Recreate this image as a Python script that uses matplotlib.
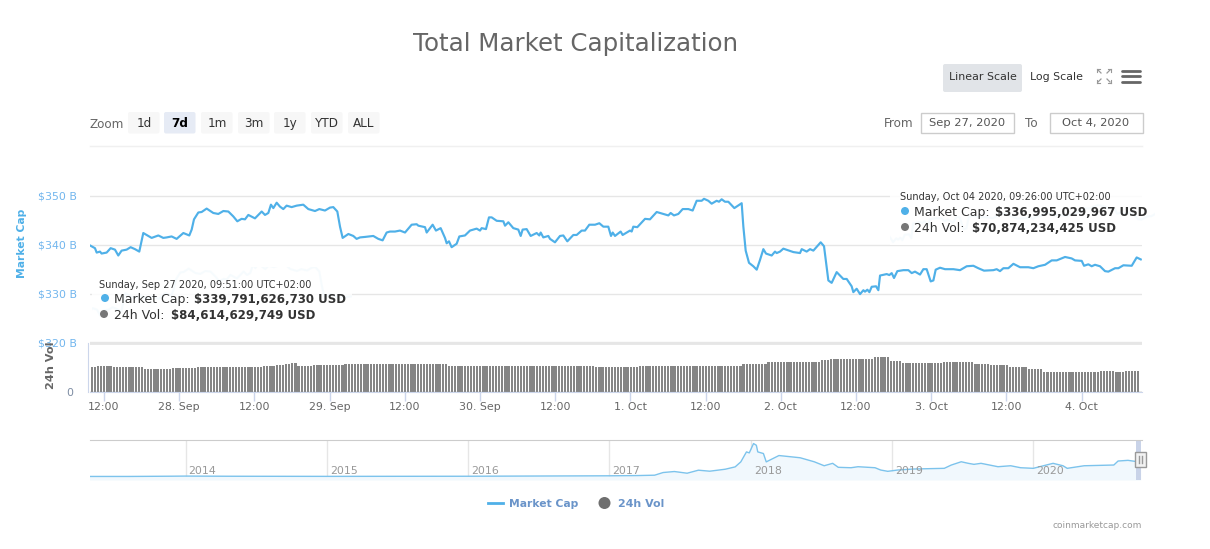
import numpy as np
import matplotlib
matplotlib.use("Agg")
import matplotlib.pyplot as plt
from matplotlib.patches import Rectangle, Circle, FancyBboxPatch
from matplotlib.transforms import Affine2D

# ---- data ----
# hours counted from 27 Sep 2020 00:00
mcap_hours = [9.85, 10.56, 10.83, 11.36, 11.62, 12.42, 13.06, 13.75, 14.28, 14.81, 15.61, 16.25, 16.94, 17.63,
    18.27, 18.80, 19.60, 20.67, 21.46, 22.00, 22.79, 23.59, 24.66, 25.61, 25.99, 26.36, 27.05, 27.58, 28.38,
    29.44, 30.24, 31.04, 31.84, 32.63, 33.27, 33.96, 34.50, 35.03, 36.09, 37.16, 37.69, 38.22, 38.64, 39.02,
    39.55, 40.08, 40.61, 41.14, 41.94, 42.74, 43.80, 44.60, 45.67, 46.36, 47.26, 48.06, 48.59, 49.23, 49.66,
    50.08, 50.99, 51.78, 52.31, 52.85, 53.64, 54.97, 55.77, 56.46, 57.10, 57.63, 58.43, 59.23, 60.03, 61.09,
    61.89, 62.16, 63.22, 63.49, 64.44, 64.97, 65.72, 66.41, 66.68, 67.05, 67.47, 68.27, 68.70, 69.60, 70.40,
    71.46, 72.00, 72.26, 72.95, 73.43, 73.86, 74.66, 75.72, 75.99, 76.52, 77.31, 78.11, 78.49, 78.80, 79.44,
    80.08, 81.04, 81.46, 81.68, 82.10, 82.90, 83.17, 83.96, 84.76, 85.29, 85.93, 86.89, 87.42, 88.22, 88.75,
    89.44, 90.35, 91.04, 91.68, 92.47, 92.90, 93.17, 93.54, 94.44, 94.76, 95.93, 96.20, 96.46, 97.10, 98.33,
    99.12, 100.19, 101.25, 102.05, 102.42, 102.95, 103.64, 104.34, 105.24, 105.93, 106.57, 107.37, 107.74,
    108.43, 108.96, 109.76, 110.13, 110.56, 111.09, 111.62, 112.58, 113.75, 114.02, 114.39, 114.92, 115.61,
    116.15, 116.68, 117.21, 117.63, 118.54, 119.07, 119.34, 119.87, 120.40, 122.00, 123.06, 123.33, 124.12,
    124.66, 125.19, 126.36, 126.89, 127.58, 128.11, 128.91, 129.97, 130.51, 131.30, 131.57, 132.10, 132.64,
    133.17, 133.43, 133.81, 134.13, 134.50, 135.19, 135.56, 135.83, 136.89, 137.31, 137.69, 138.06, 138.59,
    139.55, 140.35, 140.88, 141.41, 142.21, 142.74, 143.27, 143.91, 144.34, 144.71, 145.40, 146.20, 147.53,
    148.59, 149.66, 150.72, 151.51, 152.42, 153.91, 154.44, 154.97, 155.51, 156.30, 157.11, 158.17, 159.49,
    160.29, 161.09, 162.16, 163.22, 164.02, 165.35, 166.41, 166.94, 168.01, 168.38, 169.07, 169.60, 170.13,
    170.93, 171.73, 172.26, 173.33, 173.86, 174.66, 175.99, 176.78, 177.43]
mcap_billion = [339.8, 339.3, 338.4, 338.6, 338.2, 338.4, 339.3, 339.0, 337.8, 338.8, 339.0, 339.5, 339.1, 338.6,
    342.4, 342.0, 341.4, 341.9, 341.4, 341.5, 341.7, 341.2, 342.4, 341.9, 343.1, 345.2, 346.6, 346.7, 347.4,
    346.5, 346.3, 346.9, 346.8, 345.8, 344.8, 345.3, 345.2, 346.1, 345.4, 346.8, 346.1, 346.5, 348.2, 347.5,
    348.6, 347.8, 347.3, 348.0, 347.7, 348.0, 348.2, 347.3, 346.9, 347.3, 347.0, 347.6, 347.7, 346.8, 343.7,
    341.4, 342.2, 341.8, 341.2, 341.5, 341.6, 341.8, 341.2, 340.9, 342.5, 342.7, 342.7, 342.9, 342.5, 344.1,
    344.2, 343.9, 343.6, 342.5, 344.1, 342.9, 343.4, 341.4, 340.3, 340.7, 339.5, 340.2, 341.7, 341.9, 342.9,
    343.3, 342.9, 343.4, 343.2, 345.6, 345.6, 344.9, 344.8, 343.9, 344.6, 343.4, 343.1, 341.8, 343.1, 343.2,
    341.8, 342.4, 341.9, 342.5, 341.5, 341.8, 341.2, 340.5, 341.8, 341.9, 340.7, 342.0, 342.0, 342.9, 342.9,
    344.1, 344.1, 344.4, 343.7, 343.7, 341.8, 342.5, 341.8, 342.7, 342.0, 342.9, 342.7, 343.7, 343.6, 345.3,
    345.2, 346.7, 346.3, 346.0, 346.5, 346.0, 346.3, 347.3, 347.3, 347.0, 349.0, 349.0, 349.4,
    349.0, 348.4, 349.0, 348.8, 349.3, 348.8, 348.8, 347.5, 348.5, 343.7, 338.8, 336.3, 335.6,
    334.9, 336.9, 339.1, 338.2, 337.8, 338.6, 338.3, 338.6, 339.2, 338.5, 338.3, 339.1, 338.6,
    339.1, 338.8, 340.5, 339.7, 332.7, 332.2, 334.4, 333.0, 333.0, 331.5, 330.3, 331.0, 329.9,
    330.7, 330.4, 330.8, 330.3, 331.4, 331.5, 330.7, 333.7, 334.0, 333.8, 334.2, 333.2, 334.6,
    334.8, 334.8, 334.2, 334.5, 333.9, 335.0, 335.0, 332.5, 332.7, 334.9, 335.3, 335.0, 335.0,
    334.8, 335.6, 335.7, 335.2, 334.7, 334.8, 335.0, 334.6, 335.2, 335.2, 336.1, 335.4, 335.4,
    335.2, 335.6, 335.9, 336.8, 336.8, 337.5, 337.2, 336.8, 336.7, 335.7, 336.0, 335.6, 335.9,
    335.6, 334.6, 334.5, 335.2, 335.2, 335.8, 335.7, 337.4, 337.0]

# 24h volume stays flat for stretches, so it is kept as level + number of half-hour bars
vol_levels = [85, 88.4, 85, 79, 82.6, 85, 88.4, 93, 96, 98.6, 88.4, 91.8, 95.2, 88.4, 90, 85, 88.4, 97, 102,
    108.8, 112, 114.6, 119, 105, 98.6, 102, 95, 91.8, 85, 80.6, 69, 72.4, 69, 71]
vol_runs = [2, 5, 10, 9, 8, 21, 4, 3, 2, 2, 5, 10, 33, 15, 32, 14, 33, 8, 17,
    3, 10, 4, 5, 4, 13, 10, 5, 6, 6, 5, 18, 5, 3, 5]

# navigator (whole history)
nav_years = [2013.32, 2013.6, 2013.9, 2014.0, 2014.3, 2015.0, 2016.0, 2017.0, 2017.2, 2017.32, 2017.38, 2017.46,
    2017.55, 2017.63, 2017.71, 2017.82, 2017.89, 2017.93, 2017.97, 2017.99, 2018.02, 2018.04, 2018.05, 2018.09,
    2018.11, 2018.2, 2018.35, 2018.45, 2018.52, 2018.58, 2018.62, 2018.71, 2018.76, 2018.88, 2018.92, 2018.97,
    2019.04, 2019.15, 2019.37, 2019.42, 2019.49, 2019.54, 2019.58, 2019.63, 2019.75, 2019.84, 2019.91, 2020.0,
    2020.14, 2020.21, 2020.24, 2020.36, 2020.57, 2020.60, 2020.67, 2020.74, 2020.76]
nav_billion = [2, 2, 8, 11, 7, 4, 7, 18, 24, 33, 99, 124, 82, 157, 132, 181, 239, 363, 610, 586, 817, 775, 610,
    570, 363, 520, 465, 365, 267, 327, 228, 218, 243, 218, 161, 129, 161, 186, 203, 285, 366, 327, 302, 327,
    243, 267, 218, 203, 327, 267, 203, 267, 285, 384, 401, 366, 351]

hour_ticks = [12, 24, 36, 48, 60, 72, 84, 96, 108, 120, 132, 144, 156, 168]
hour_labels = ["12:00", "28. Sep", "12:00", "29. Sep", "12:00", "30. Sep", "12:00", "1. Oct",
               "12:00", "2. Oct", "12:00", "3. Oct", "12:00", "4. Oct"]
price_ticks = [320, 330, 340, 350]
price_labels = ["$320 B", "$330 B", "$340 B", "$350 B"]
nav_ticks = [2014, 2015, 2016, 2017, 2018, 2019, 2020]
zoom_buttons = ["1d", "7d", "1m", "3m", "1y", "YTD", "ALL"]

# ---- style ----
W, H = 1210, 549
LINE = "#4fb0e8"
TICK_BLUE = "#72b6ee"
GREY = "#666666"
AXIS = "#ccd6eb"
FONT = "DejaVu Sans"
plt.rcParams["font.family"] = FONT


def px(size):
    return size * 0.72


def rect(left, top, right, bottom):
    return [left / W, 1 - bottom / H, (right - left) / W, (bottom - top) / H]


fig = plt.figure(figsize=(W / 100, H / 100), dpi=100, facecolor="white")
xlim = (12 - 14 / 6.267, 12 + 1038 / 6.267)

# ---- market cap panel ----
ax = fig.add_axes(rect(90, 146, 1142, 342.5))
ax.plot(mcap_hours, mcap_billion, color=LINE, lw=1.55, solid_joinstyle="round", zorder=3)
ax.set_xlim(xlim)
ax.set_ylim(320, 350 + 50 / 4.9)
ax.set_yticks(price_ticks, price_labels, color=TICK_BLUE, fontsize=px(11))
ax.tick_params(axis="y", length=0, pad=px(13))
ax.set_xticks([])
ax.grid(axis="y", color="#e6e6e6", lw=1)
ax.set_axisbelow(True)
for s in ["left", "right", "bottom"]:
    ax.spines[s].set_visible(False)
ax.spines["top"].set_color("#f0f0f0")
ax.set_ylabel("Market Cap", color=LINE, fontsize=px(10.7), fontweight="bold")
ax.yaxis.set_label_coords((27 - 90) / 1052, 0.506)

# ---- volume panel ----
vol = np.repeat(vol_levels, vol_runs)
vol_hours = 9.85 + 0.5 * np.arange(len(vol)) + 0.2
ax_vol = fig.add_axes(rect(90, 342.5, 1142, 392))
ax_vol.bar(vol_hours, vol, width=0.36, color="#858585", linewidth=0)
ax_vol.set_xlim(xlim)
ax_vol.set_ylim(0, 170)
ax_vol.set_yticks([0, 170], ["0", ""])
ax_vol.tick_params(axis="y", length=0, pad=px(15), labelsize=px(11), labelcolor="#7d8ca3")
ax_vol.set_xticks(hour_ticks, hour_labels, color=GREY, fontsize=px(11))
ax_vol.tick_params(axis="x", length=px(9), width=1, color=AXIS, pad=px(1.5))
ax_vol.grid(axis="y", color="#e6e6e6", lw=2)
ax_vol.set_axisbelow(True)
for s in ["top", "right"]:
    ax_vol.spines[s].set_visible(False)
ax_vol.spines["bottom"].set_color(AXIS)
ax_vol.spines["left"].set_color(AXIS)
ax_vol.spines["left"].set_position(("outward", px(2)))
ax_vol.set_ylabel("24h Vol", color=GREY, fontsize=px(11.3), fontweight="bold")
ax_vol.yaxis.set_label_coords((56 - 90) / 1052, 0.55)
ax_vol.patch.set_alpha(0)

# ---- navigator ----
ax_nav = fig.add_axes(rect(90, 440, 1142, 480))
ax_nav.fill_between(nav_years, nav_billion, -86, color="#f1f8fd", lw=0)
ax_nav.plot(nav_years, nav_billion, color="#7cc3ec", lw=1)
ax_nav.set_xlim(2014 - 95.5 / 141.3, 2014 + 956.5 / 141.3)
ax_nav.set_ylim(-86, 905)
ax_nav.set_yticks([])
ax_nav.set_xticks([])
ax_nav.vlines(nav_ticks, -86, 905, color="#e6e6e6", lw=1, zorder=0)
for yr in nav_ticks:
    ax_nav.annotate(str(yr), (yr, 0), xytext=(px(3), px(1)), textcoords="offset points",
                    color="#999999", fontsize=px(11), va="bottom")
for s in ["left", "right", "bottom"]:
    ax_nav.spines[s].set_visible(False)
ax_nav.spines["top"].set_color("#cccccc")
ax_nav.axvspan(2020.73, 2020.76, color="#c9d3e8", lw=0)

# ---- everything around the plots, in page pixels ----
ov = fig.add_axes([0, 0, 1, 1], zorder=5)
ov.set_xlim(0, W)
ov.set_ylim(H, 0)
ov.axis("off")


def label(x, y, s, size=12, color="#333333", ha="left", weight="normal"):
    ov.text(x, y, s, fontsize=px(size), color=color, ha=ha, va="center_baseline", fontweight=weight)


def box(left, top, right, bottom, fc, ec="none", rounded=False, alpha=None):
    if rounded:
        p = FancyBboxPatch((left + 2, top + 2), right - left - 4, bottom - top - 4,
                           boxstyle="round,pad=2", fc=fc, ec=ec, lw=1, alpha=alpha)
    else:
        p = Rectangle((left, top), right - left, bottom - top, fc=fc, ec=ec, lw=1, alpha=alpha)
    ov.add_patch(p)


label(575.5, 41, "Total Market Capitalization", size=24.5, color=GREY, ha="center")

# range selector
label(90, 123, "Zoom", color=GREY, size=12)
btn_edges = [128, 164, 201, 238, 274, 311, 348]
for name, left in zip(zoom_buttons, btn_edges):
    selected = name == "7d"
    box(left, 112, left + 31.5, 133.5, "#e6ebf5" if selected else "#f7f7f7", rounded=True)
    label(left + 16, 122, name, ha="center", size=12, weight="bold" if selected else "normal",
          color="#000000" if selected else "#333333")
ov.plot([90, 1142], [146, 146], color="#f0f0f0", lw=1)

# scale switch and icons
box(943, 64, 1022, 92, "#e1e4e8", rounded=True)
label(982.5, 76, "Linear Scale", ha="center", size=11)
label(1056.5, 76, "Log Scale", ha="center", size=11)
for bar_y in [70.5, 76, 81.5]:
    ov.plot([1122, 1140], [bar_y, bar_y], color=GREY, lw=2, solid_capstyle="round")
for cx, cy, dx, dy in [(1097, 69, 1, 1), (1111, 69, -1, 1), (1097, 83, 1, -1), (1111, 83, -1, -1)]:
    ov.plot([cx + 1 * dx, cx + 4 * dx], [cy + 1 * dy, cy + 4 * dy], color="#999999", lw=0.9)
    ov.plot([cx, cx + 3 * dx], [cy, cy], color="#999999", lw=0.8)
    ov.plot([cx, cx], [cy, cy + 3 * dy], color="#999999", lw=0.8)

# date inputs
label(884, 122, "From", color=GREY, size=12)
box(920.5, 112.5, 1014, 133, "white", ec="#cccccc")
label(967, 122, "Sep 27, 2020", ha="center", color="#555555", size=11.5)
label(1025, 122, "To", color=GREY, size=12)
box(1049.5, 112.5, 1143, 133, "white", ec="#cccccc")
label(1096, 122, "Oct 4, 2020", ha="center", color="#555555", size=11.5)

# tooltips, the faint copy of the line behind each one comes first
tips = [
    (92, 267, 352, 322, -18, 60),
    (890, 186, 1155, 245, 33, -52),
]
for left, top, right, bottom, dx, dy in tips:
    box(left, top, right, bottom, "white", alpha=0.85)
    ghost, = ax.plot(mcap_hours, mcap_billion, color=LINE, lw=1.5, alpha=0.3, zorder=4,
                     transform=ax.transData + Affine2D().translate(dx, -dy))
    ghost.set_clip_path(Rectangle((left, top), right - left, bottom - top, transform=ov.transData))

label(99, 283.5, "Sunday, Sep 27 2020, 09:51:00 UTC+02:00", size=9.8)
ov.add_patch(Circle((105, 298), 4, fc=LINE, ec="none"))
label(114, 298, "Market Cap:", size=12.5)
label(193.5, 298, "$339,791,626,730 USD", size=11.7, weight="bold")
ov.add_patch(Circle((104, 314), 4, fc="#777777", ec="none"))
label(114, 314, "24h Vol:", size=12.5)
label(171, 314, "$84,614,629,749 USD", size=11.7, weight="bold")

label(899.5, 195.5, "Sunday, Oct 04 2020, 09:26:00 UTC+02:00", size=9.8)
ov.add_patch(Circle((905, 211), 4, fc=LINE, ec="none"))
label(914, 211, "Market Cap:", size=12.5)
label(995, 211, "$336,995,029,967 USD", size=11.7, weight="bold")
ov.add_patch(Circle((905, 227), 4, fc="#777777", ec="none"))
label(914, 227, "24h Vol:", size=12.5)
label(972, 227, "$70,874,234,425 USD", size=11.7, weight="bold")

# navigator handle
box(1134.5, 452, 1145.5, 467, "#f2f2f2", ec="#999999")
for hx in [1138.5, 1141.5]:
    ov.plot([hx, hx], [456, 463], color="#999999", lw=1)

# legend and credit
ov.plot([487.5, 503], [503, 503], color=LINE, lw=2)
label(509, 503, "Market Cap", size=10.7, color="#6a94c9", weight="bold")
ov.add_patch(Circle((604.5, 503), 6, fc="#6f6f6f", ec="none"))
label(618, 503, "24h Vol", size=11, color="#6a94c9", weight="bold")
label(1142, 524, "coinmarketcap.com", size=9, color="#999999", ha="right")

fig.savefig("out.png", dpi=100)
